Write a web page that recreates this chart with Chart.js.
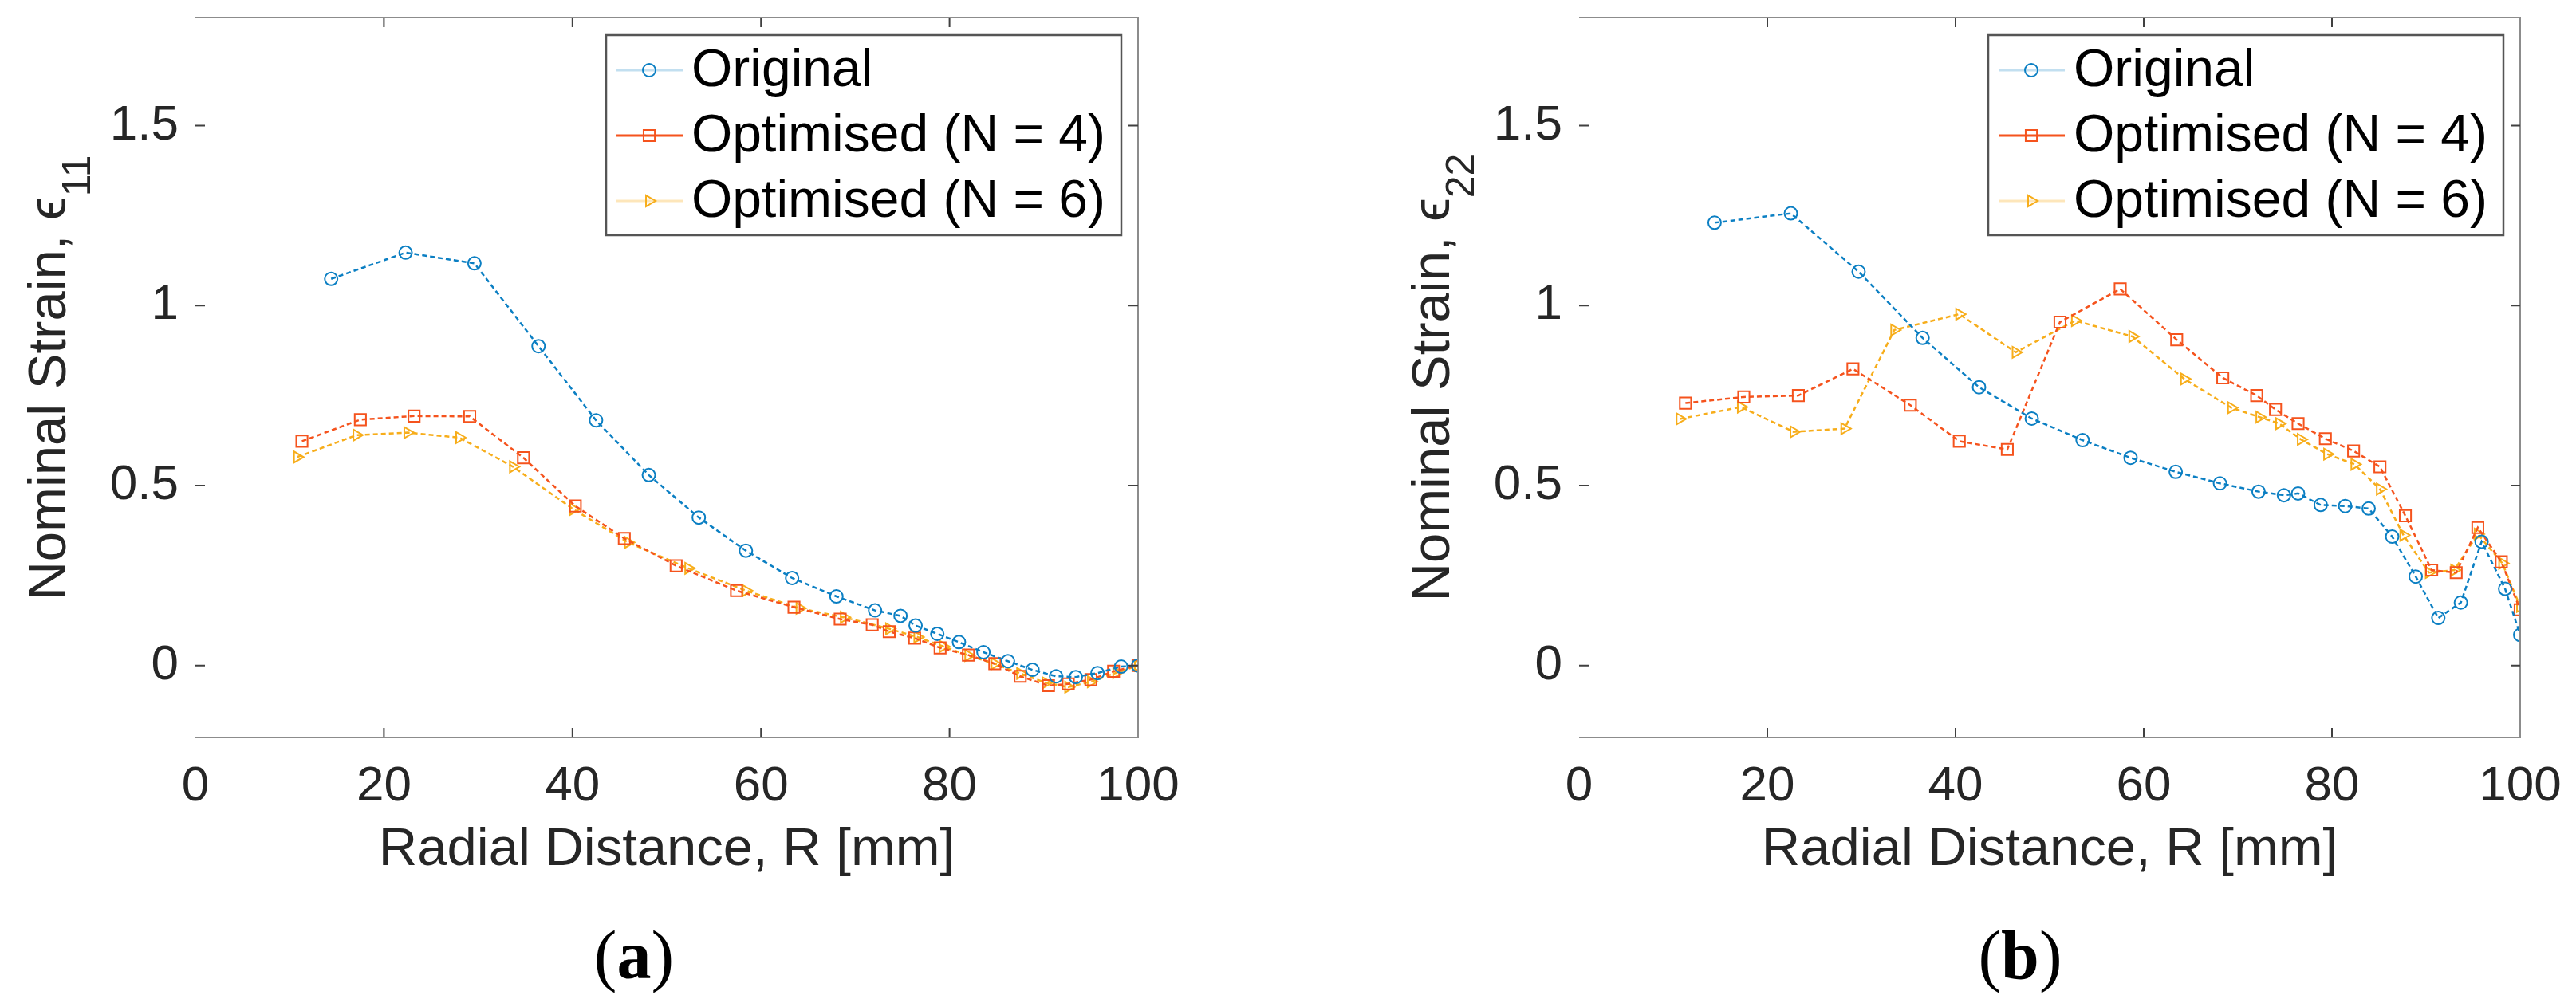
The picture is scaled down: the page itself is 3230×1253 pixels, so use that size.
<!DOCTYPE html>
<html>
<head>
<meta charset="utf-8">
<title>Nominal strain vs radial distance</title>
<script src="https://cdn.jsdelivr.net/npm/chart.js@4.4.0/dist/chart.umd.min.js"></script>
<style>
  body { margin: 0; background: #fff; width: 3230px; height: 1253px; overflow: hidden; position: relative; }
  .panel { position: absolute; top: 0; width: 1500px; height: 1130px; }
  .cap { position: absolute; top: 1155px; width: 200px; margin-left: -100px; text-align: center;
         font-family: "Liberation Serif", "Times New Roman", serif; font-size: 86px; line-height: 1; color: #000; }
</style>
</head>
<body>
<div class="panel" style="left:0px"><canvas id="chartA"></canvas></div>
<div class="panel" style="left:1735px"><canvas id="chartB"></canvas></div>
<div class="cap" style="left:795px">(<b>a</b>)</div>
<div class="cap" style="left:2533px">(<b>b</b>)</div>
<script>
// ---- datos ----
var xTicks = [0, 20, 40, 60, 80, 100];
var xTickLabels = ['0', '20', '40', '60', '80', '100'];
var yTicks = [0, 0.5, 1, 1.5];
var yTickLabels = ['0', '0.5', '1', '1.5'];
var seriesNames = ['Original', 'Optimised (N = 4)', 'Optimised (N = 6)'];

// (a) epsilon 11
var origAX = [14.4, 22.3, 29.6, 36.4, 42.5, 48.1, 53.4, 58.4, 63.3, 68.0, 72.1, 74.8, 76.4, 78.7, 81.0, 83.6, 86.2, 88.8, 91.3, 93.4, 95.7, 98.2, 100];
var origAY = [1.074, 1.147, 1.117, 0.887, 0.681, 0.529, 0.411, 0.319, 0.243, 0.192, 0.153, 0.138, 0.111, 0.088, 0.065, 0.037, 0.012, -0.012, -0.030, -0.032, -0.021, -0.003, 0.0];
var opt4AX = [11.3, 17.5, 23.2, 29.1, 34.8, 40.3, 45.5, 51.0, 57.4, 63.5, 68.4, 71.8, 73.6, 76.3, 79.0, 82.0, 84.8, 87.5, 90.5, 92.6, 95.0, 97.4, 100];
var opt4AY = [0.623, 0.683, 0.693, 0.692, 0.577, 0.443, 0.353, 0.277, 0.208, 0.162, 0.129, 0.113, 0.094, 0.076, 0.049, 0.029, 0.005, -0.030, -0.056, -0.051, -0.039, -0.016, 0.0];
var opt6AX = [10.8, 17.1, 22.5, 28.0, 33.7, 40.1, 45.9, 52.3, 58.4, 64.1, 68.8, 73.6, 76.6, 79.3, 82.0, 84.8, 87.5, 90.2, 92.6, 95.0, 97.7, 100];
var opt6AY = [0.579, 0.640, 0.647, 0.633, 0.552, 0.434, 0.342, 0.270, 0.208, 0.159, 0.134, 0.102, 0.079, 0.053, 0.028, 0.005, -0.022, -0.048, -0.060, -0.045, -0.020, 0.0];

// (b) epsilon 22
var origBX = [14.4, 22.5, 29.7, 36.5, 42.5, 48.1, 53.5, 58.6, 63.4, 68.1, 72.2, 74.9, 76.4, 78.8, 81.4, 83.9, 86.4, 88.9, 91.3, 93.7, 95.9, 98.4, 100];
var origBY = [1.230, 1.256, 1.094, 0.910, 0.773, 0.686, 0.626, 0.577, 0.538, 0.506, 0.483, 0.473, 0.478, 0.446, 0.443, 0.436, 0.358, 0.247, 0.132, 0.175, 0.344, 0.213, 0.085];
var opt4BX = [11.3, 17.5, 23.3, 29.1, 35.2, 40.4, 45.5, 51.1, 57.5, 63.5, 68.4, 72.0, 74.0, 76.4, 79.3, 82.3, 85.1, 87.8, 90.6, 93.2, 95.5, 98.0, 100];
var opt4BY = [0.729, 0.746, 0.750, 0.824, 0.723, 0.623, 0.600, 0.954, 1.046, 0.905, 0.799, 0.750, 0.711, 0.672, 0.630, 0.596, 0.552, 0.416, 0.265, 0.258, 0.383, 0.288, 0.155];
var opt6BX = [10.7, 17.2, 22.8, 28.2, 33.5, 40.4, 46.4, 52.7, 58.8, 64.3, 69.3, 72.3, 74.4, 76.7, 79.5, 82.4, 85.1, 87.6, 90.3, 93.0, 95.5, 98.1, 100];
var opt6BY = [0.685, 0.718, 0.649, 0.658, 0.932, 0.976, 0.870, 0.958, 0.914, 0.796, 0.716, 0.690, 0.672, 0.628, 0.587, 0.559, 0.490, 0.362, 0.258, 0.265, 0.365, 0.284, 0.164];

var FONT = '"Liberation Sans", Arial, Helvetica, sans-serif';
var TXT = '#262626';

function puntos(xs, ys) {
    return xs.map(function (x, i) { return { x: x, y: ys[i] }; });
}

function serie(nombre, xs, ys, color, legendColor, estilo, radio, rot) {
    return {
        label: nombre,
        data: puntos(xs, ys),
        borderColor: color,
        backgroundColor: 'rgba(0,0,0,0)',
        borderWidth: 2.5,
        borderDash: [6, 4],
        pointStyle: estilo,
        pointRadius: radio,
        pointRotation: rot,
        pointBorderWidth: 2,
        pointBorderColor: color,
        pointBackgroundColor: 'rgba(0,0,0,0)',
        tension: 0,
        legendColor: legendColor
    };
}

// ejes estilo MATLAB: caja sin linea izquierda, ticks hacia dentro, leyenda y titulo Y con subindice
var ejesMatlab = {
    id: 'ejesMatlab',
    afterDatasetsDraw: function (chart, args, opts) {
        var ctx = chart.ctx, a = chart.chartArea;
        var sx = chart.scales.x, sy = chart.scales.y;
        ctx.save();
        ctx.setLineDash([]);

        ctx.strokeStyle = '#8c8c8c';
        ctx.lineWidth = 2;
        ctx.beginPath();
        ctx.moveTo(a.left, a.top); ctx.lineTo(a.right, a.top);
        ctx.lineTo(a.right, a.bottom); ctx.lineTo(a.left, a.bottom);
        ctx.stroke();

        ctx.strokeStyle = '#404040';
        ctx.beginPath();
        sx.ticks.forEach(function (t) {
            var px = sx.getPixelForValue(t.value);
            if (px <= a.left + 1 || px >= a.right - 1) return;
            ctx.moveTo(px, a.bottom); ctx.lineTo(px, a.bottom - 12);
            ctx.moveTo(px, a.top); ctx.lineTo(px, a.top + 12);
        });
        sy.ticks.forEach(function (t) {
            var py = sy.getPixelForValue(t.value);
            ctx.moveTo(a.left, py); ctx.lineTo(a.left + 12, py);
            ctx.moveTo(a.right, py); ctx.lineTo(a.right - 12, py);
        });
        ctx.stroke();

        // leyenda
        ctx.font = '66px ' + FONT;
        var ds = chart.data.datasets;
        var tw = Math.max.apply(null, ds.map(function (d) { return ctx.measureText(d.label).width; }));
        var bw = 107 + tw + 20, bh = 251;
        var bx = a.right - 21 - bw, by = a.top + 22;
        ctx.fillStyle = '#fff';
        ctx.fillRect(bx, by, bw, bh);
        ctx.strokeStyle = '#555';
        ctx.lineWidth = 2.5;
        ctx.strokeRect(bx, by, bw, bh);
        ds.forEach(function (d, i) {
            var cy = by + 44 + i * 82;
            ctx.strokeStyle = d.legendColor;
            ctx.lineWidth = 3;
            ctx.beginPath();
            ctx.moveTo(bx + 13, cy); ctx.lineTo(bx + 96, cy);
            ctx.stroke();
            ctx.strokeStyle = d.borderColor;
            ctx.fillStyle = 'rgba(0,0,0,0)';
            ctx.lineWidth = 2;
            Chart.helpers.drawPoint(ctx, { pointStyle: d.pointStyle, rotation: d.pointRotation, radius: d.pointRadius, borderWidth: 2 }, bx + 54, cy);
            ctx.fillStyle = '#000';
            ctx.textBaseline = 'middle';
            ctx.textAlign = 'left';
            ctx.fillText(d.label, bx + 107, cy + 2);
        });

        // titulo eje Y
        ctx.translate(a.left - 163, (a.top + a.bottom) / 2);
        ctx.rotate(-Math.PI / 2);
        ctx.fillStyle = TXT;
        ctx.textBaseline = 'alphabetic';
        ctx.textAlign = 'left';
        ctx.font = '67px ' + FONT;
        var mw = ctx.measureText(opts.main).width;
        ctx.font = '50px ' + FONT;
        var subw = ctx.measureText(opts.sub).width;
        var x0 = -(mw + subw) / 2;
        ctx.font = '67px ' + FONT;
        ctx.fillText(opts.main, x0, 0);
        ctx.font = '50px ' + FONT;
        ctx.fillText(opts.sub, x0 + mw, 31);
        ctx.restore();
    }
};

function crearGrafico(id, datasets, sub, padRight) {
    var ctx = document.getElementById(id).getContext('2d');
    return new Chart(ctx, {
        type: 'line',
        data: { datasets: datasets },
        plugins: [ejesMatlab],
        options: {
            responsive: true,
            maintainAspectRatio: false,
            devicePixelRatio: 1,
            animation: false,
            layout: { padding: { left: 0, top: 22, right: padRight, bottom: 0 } },
            plugins: {
                legend: { display: false },
                tooltip: { enabled: false },
                ejesMatlab: { main: 'Nominal Strain, \u03f5', sub: sub }
            },
            scales: {
                x: {
                    type: 'linear', min: 0, max: 100,
                    grid: { display: false, drawTicks: false },
                    border: { display: false },
                    afterBuildTicks: function (s) { s.ticks = xTicks.map(function (v) { return { value: v }; }); },
                    afterFit: function (s) { s.height = 205; s.paddingLeft = 0; s.paddingRight = 0; },
                    ticks: {
                        autoSkip: false, maxRotation: 0, padding: 25, color: TXT,
                        font: { family: FONT, size: 62 },
                        callback: function (v, i) { return xTickLabels[i]; }
                    },
                    title: {
                        display: true, text: 'Radial Distance, R [mm]', color: TXT,
                        font: { family: FONT, size: 67 },
                        padding: { top: 0, bottom: 23 }
                    }
                },
                y: {
                    type: 'linear', min: -0.2, max: 1.8,
                    grid: { display: false, drawTicks: false },
                    border: { display: false },
                    afterBuildTicks: function (s) { s.ticks = yTicks.map(function (v) { return { value: v }; }); },
                    afterFit: function (s) { s.width = 245; s.paddingTop = 0; s.paddingBottom = 0; },
                    ticks: {
                        autoSkip: false, padding: 21, color: TXT,
                        font: { family: FONT, size: 62 },
                        callback: function (v, i) { return yTickLabels[i]; }
                    }
                }
            }
        }
    });
}

var AZUL = '#0b7fc3', ROJO = '#f5531d', AMARILLO = '#f7ad1a';

crearGrafico('chartA', [
    serie(seriesNames[0], origAX, origAY, AZUL, 'rgba(11,127,195,0.25)', 'circle', 8, 0),
    serie(seriesNames[1], opt4AX, opt4AY, ROJO, ROJO, 'rect', 10, 0),
    serie(seriesNames[2], opt6AX, opt6AY, AMARILLO, 'rgba(247,173,26,0.3)', 'triangle', 8, 90)
], '11', 73);

crearGrafico('chartB', [
    serie(seriesNames[0], origBX, origBY, AZUL, 'rgba(11,127,195,0.25)', 'circle', 8, 0),
    serie(seriesNames[1], opt4BX, opt4BY, ROJO, ROJO, 'rect', 10, 0),
    serie(seriesNames[2], opt6BX, opt6BY, AMARILLO, 'rgba(247,173,26,0.3)', 'triangle', 8, 90)
], '22', 75);
</script>
</body>
</html>
